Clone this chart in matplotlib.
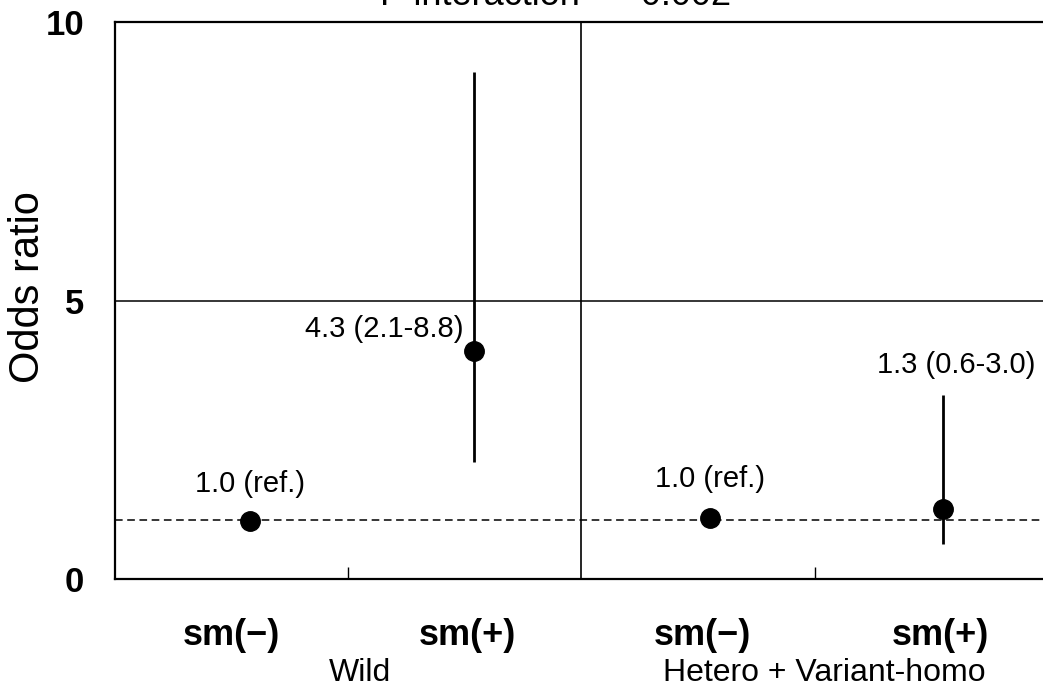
import numpy as np
import matplotlib
matplotlib.use("Agg")
import matplotlib.pyplot as plt

plt.rcParams["font.family"] = ["Liberation Sans", "DejaVu Sans"]

# data
categories = ["sm(−)", "sm(+)", "sm(−)", "sm(+)"]
groups = ["Wild", "Hetero + Variant-homo"]
odds = [1.04, 4.1, 1.1, 1.27]
ci_low = [np.nan, 2.1, np.nan, 0.63]
ci_high = [np.nan, 9.1, np.nan, 3.3]
labels = ["1.0 (ref.)", "4.3 (2.1-8.8)", "1.0 (ref.)", "1.3 (0.6-3.0)"]
ref_line = 1.07
title = "P interaction  =  0.002"

point_x = [0.58, 1.54, 2.55, 3.55]
label_x = [0.50, 1.51, 2.52, 3.54]
group_x = [1.05, 3.04]

fig = plt.figure(figsize=(10.43, 6.88), dpi=100)
ax = fig.add_axes([0.110, 0.158, 0.895, 0.810])
ax.set_xlim(0, 4)
ax.set_ylim(0, 10)

# frame
for side in ["left", "bottom", "top"]:
    ax.spines[side].set_linewidth(1.6)
ax.spines["right"].set_visible(False)
ax.axhline(5, color="black", lw=1.1)
ax.axvline(2, color="black", lw=1.2)
ax.axhline(ref_line, color="black", lw=1.1, ls=(0, (5, 3)))

# error bars and points
for x, y, lo, hi in zip(point_x, odds, ci_low, ci_high):
    if not np.isnan(lo):
        ax.plot([x, x], [lo, hi], color="black", lw=2.0, solid_capstyle="butt")
ax.plot(point_x, odds, "o", color="black", markersize=14, zorder=3)

# annotations
ax.annotate(labels[0], (point_x[0], odds[0]), xytext=(0, 27), textcoords="offset points",
            ha="center", va="center", fontsize=21)
ax.annotate(labels[1], (point_x[1], odds[1]), xytext=(-8, 16), textcoords="offset points",
            ha="right", va="center", fontsize=21)
ax.annotate(labels[2], (point_x[2], odds[2]), xytext=(0, 28), textcoords="offset points",
            ha="center", va="center", fontsize=21)
ax.annotate(labels[3], (point_x[3], ci_high[3]), xytext=(9, 22), textcoords="offset points",
            ha="center", va="center", fontsize=21)

# axes ticks
ax.set_yticks([0, 5, 10])
ax.set_yticklabels(["0", "5", "10"], fontsize=25, fontweight="bold")
ax.tick_params(axis="y", length=0, pad=22)
ax.set_xticks([1, 3])
ax.set_xticklabels([])
ax.tick_params(axis="x", direction="in", length=8.5, width=1.0)
for x, name in zip(label_x, categories):
    ax.text(x, -1.0, name, ha="center", va="center",
            fontsize=26, fontweight="bold", clip_on=False)
for x, name in zip(group_x, groups):
    ax.text(x, -1.68, name, ha="center", va="center", fontsize=23, clip_on=False)

ax.set_ylabel("Odds ratio", fontsize=30, va="center")
ax.yaxis.set_label_coords(-0.093, 0.524)
fig.text(0.533, 1.0 - 5 / 688, title, ha="center", va="baseline", fontsize=26)

fig.savefig("out.png", dpi=100)
